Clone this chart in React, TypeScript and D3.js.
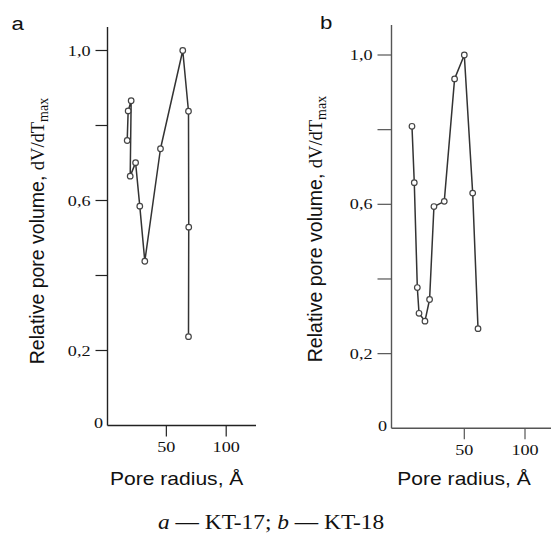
import React from "react";
import * as d3 from "d3";

// Data (pore radius in Å, relative pore volume)
const radiusA = [17.3, 18.1, 20.6, 19.8, 24.3, 27.8, 32.0, 45.1, 63.7, 68.5, 68.7, 68.5];
const volumeA = [0.76, 0.839, 0.866, 0.665, 0.701, 0.585, 0.438, 0.738, 1.0, 0.838, 0.529, 0.237];
const radiusB = [6.9, 8.8, 11.3, 12.7, 17.6, 21.4, 25.0, 33.5, 42.0, 50.0, 56.9, 61.3];
const volumeB = [0.809, 0.658, 0.377, 0.308, 0.287, 0.345, 0.594, 0.608, 0.936, 1.0, 0.63, 0.267];

const yTicks = [0.2, 0.4, 0.6, 0.8, 1.0];
const yTickLabels: Record<string, string> = { "0.2": "0,2", "0.6": "0,6", "1": "1,0" };
const xTicks = [50, 100];
const panelLetters = ["a", "b"];
const xTitle = "Pore radius, Å";
const yTitleMain = "Relative pore volume, ";

const SX = 1.17; // horizontal stretch of the reference picture
const SERIF = "'Liberation Serif', 'Times New Roman', serif";
const SANS = "'Liberation Sans', Arial, sans-serif";

type Layout = {
  axisX: number;
  axisTop: number;
  axisEnd: number;
  zeroY: number;
  oneY: number;
  xZero: number;
  ppu: number;
  tickLen: number;
  xLabelY: number;
  xTitleX: number;
  yTitleX: number;
  yTitleY: number;
  letterX: number;
  letterY: number;
  axisColor: string;
};

const layouts: Layout[] = [
  {
    axisX: 107.5, axisTop: 27, axisEnd: 256, zeroY: 425.5, oneY: 50.5,
    xZero: 106.5, ppu: 1.197, tickLen: 12, xLabelY: 451.5, xTitleX: 176.7,
    yTitleX: 44, yTitleY: 231, letterX: 11.5, letterY: 30, axisColor: "#222",
  },
  {
    axisX: 391.5, axisTop: 25, axisEnd: 551, zeroY: 428.3, oneY: 55,
    xZero: 403.6, ppu: 1.214, tickLen: 14, xLabelY: 454.5, xTitleX: 464,
    yTitleX: 322, yTitleY: 229, letterX: 320, letterY: 28.5, axisColor: "#555",
  },
];

function SText(props: {
  x: number; y: number; anchor?: string; size: number; family: string;
  children: React.ReactNode; style?: string; fill?: string;
}) {
  return (
    <text
      transform={`translate(${props.x},${props.y}) scale(${SX},1)`}
      textAnchor={props.anchor || "start"}
      fontSize={props.size}
      fontFamily={props.family}
      fontStyle={props.style}
      fill={props.fill || "#111"}
    >
      {props.children}
    </text>
  );
}

function Panel({ idx, xs, ys }: { idx: number; xs: number[]; ys: number[] }) {
  const L = layouts[idx];
  const x = d3.scaleLinear().domain([0, 100]).range([L.xZero, L.xZero + 100 * L.ppu]);
  const y = d3.scaleLinear().domain([0, 1]).range([L.zeroY, L.oneY]);
  const pts = xs.map((v, i) => [x(v), y(ys[i])] as [number, number]);
  const line = d3.line()(pts) || "";
  return (
    <g>
      {/* axes */}
      <line x1={L.axisX} x2={L.axisX} y1={L.axisTop} y2={L.zeroY} stroke={L.axisColor} strokeWidth={1.4} />
      <line x1={L.axisX} x2={L.axisEnd} y1={L.zeroY} y2={L.zeroY} stroke={L.axisColor} strokeWidth={1.4} />
      {yTicks.map((t) => (
        <g key={t}>
          <line x1={L.axisX - L.tickLen} x2={L.axisX} y1={y(t)} y2={y(t)} stroke={L.axisColor} strokeWidth={1.2} />
          {yTickLabels[String(t)] && (
            <SText x={L.axisX - L.tickLen - 5} y={y(t) + 5} anchor="end" size={15.5} family={SERIF}>
              {yTickLabels[String(t)]}
            </SText>
          )}
        </g>
      ))}
      <SText x={L.axisX - 4.5} y={L.zeroY + 2.5} anchor="end" size={15.5} family={SERIF}>0</SText>
      {xTicks.map((t) => (
        <g key={t}>
          <line x1={x(t)} x2={x(t)} y1={L.zeroY} y2={L.zeroY + 11} stroke={L.axisColor} strokeWidth={1.2} />
          <SText x={x(t)} y={L.xLabelY} anchor="middle" size={15.5} family={SERIF}>{t}</SText>
        </g>
      ))}
      <SText x={L.xTitleX} y={485} anchor="middle" size={18} family={SANS}>{xTitle}</SText>
      <text
        transform={`translate(${L.yTitleX},${L.yTitleY}) rotate(-90)`}
        textAnchor="middle"
        fill="#111"
      >
        <tspan fontFamily={SANS} fontSize={19.5}>{yTitleMain}</tspan>
        <tspan fontFamily={SERIF} fontSize={18.5}>dV/dT</tspan>
        <tspan fontFamily={SERIF} fontSize={14} dy={4}>max</tspan>
      </text>
      <SText x={L.letterX} y={L.letterY} size={19} family={SANS}>{panelLetters[idx]}</SText>
      {/* data */}
      <path d={line} fill="none" stroke="#333" strokeWidth={1.5} strokeLinejoin="round" />
      {pts.map((p, i) => (
        <circle key={i} cx={p[0]} cy={p[1]} r={2.8} fill="#fff" stroke="#444" strokeWidth={1.2} />
      ))}
    </g>
  );
}

export default function App() {
  return (
    <svg
      width={551}
      height={535}
      style={{ position: "absolute", left: 0, top: 0, background: "#fff" }}
    >
      <rect width={551} height={535} fill="#fff" />
      <Panel idx={0} xs={radiusA} ys={volumeA} />
      <Panel idx={1} xs={radiusB} ys={volumeB} />
      <text
        transform={`translate(158,529) scale(${SX},1)`}
        fontFamily={SERIF}
        fontSize={20}
        fill="#111"
      >
        <tspan fontStyle="italic">a</tspan>
        <tspan> — KT-17; </tspan>
        <tspan fontStyle="italic">b</tspan>
        <tspan> — KT-18</tspan>
      </text>
    </svg>
  );
}
